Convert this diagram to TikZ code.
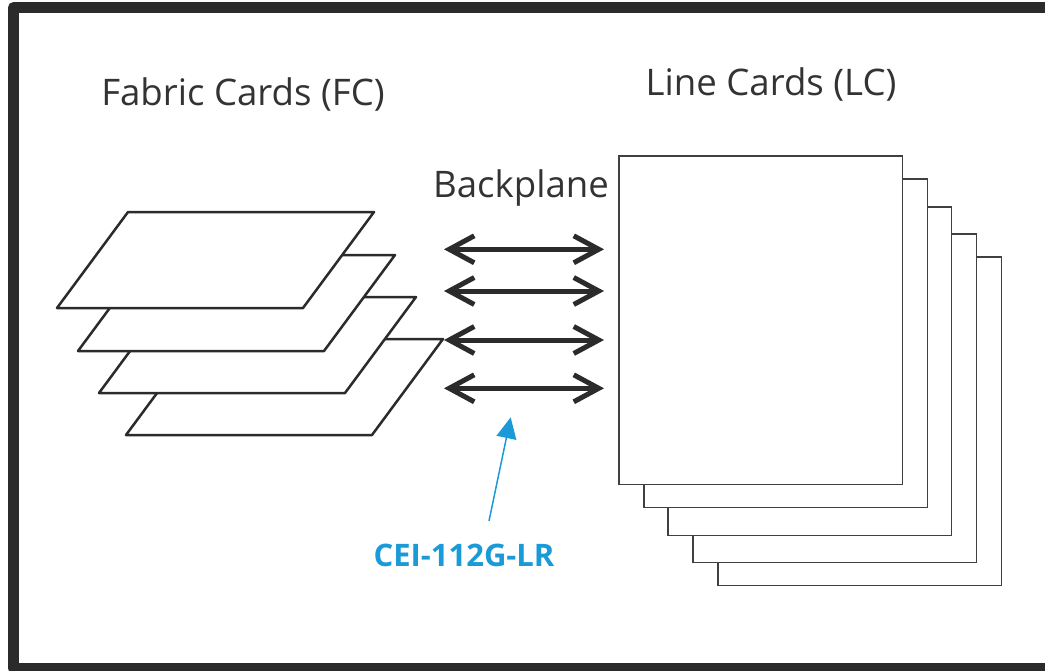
\documentclass[tikz,border=0pt]{standalone}
\usepackage{fontspec}
\setmainfont{Open Sans}
\usetikzlibrary{arrows.meta, positioning}
\definecolor{frame}{HTML}{2B2B2B}
\definecolor{ink}{HTML}{333333}
\definecolor{ceiblue}{HTML}{1A9BD7}

\begin{document}
\begin{tikzpicture}[
		x=0.5pt, y=-0.5pt,
		title/.style={font=\fontsize{18.3}{22}\selectfont, text=ink, anchor=base, inner sep=0pt},
		fcard/.style={draw=frame, fill=white, line width=1.25pt, line join=round},
		lcard/.style={draw=frame!90, fill=white, line width=0.75pt, minimum width=141.85pt, minimum height=164.15pt, inner sep=0pt, outer sep=0pt, anchor=north west},
		link/.style={{Straight Barb[length=12.5pt, width=13.5pt]}-{Straight Barb[length=12.5pt, width=13.5pt]}, line width=2.5pt, draw=frame},
		callout/.style={-{Triangle[length=10.5pt, width=10pt]}, line width=0.75pt, draw=ceiblue, fill=ceiblue}
	]
	\useasboundingbox (0,0) rectangle (1045,670);
	\draw[line width=5.5pt, draw=frame, line join=round] (13.5,7.5) rectangle (1050.3,668.5);

	% fabric cards, back to front
	\foreach \x/\y in {126/435, 99/393, 78/351, 57/308}
		\draw[fcard] (\x,\y) -- ++(246,0) -- ++(71,-96) -- ++(-246,0) -- cycle;

	% line cards, back to front
	\foreach \x/\y [count=\i] in {718/257, 693/234, 668/207, 644/179, 619/156}
		\node[lcard] (lc\i) at (\x,\y) {};

	\node[title] (fc) at (243,105) {Fabric Cards (FC)};
	\node[title] (lc) at (771,95) {Line Cards (LC)};
	\node[title] (bp) at (521,197.7) {Backplane};

	% backplane links
	\foreach \y [count=\i] in {249.3, 291, 340, 388.3} {
		\coordinate (bpL\i) at (444,\y);
		\coordinate (bpR\i) at (604,\y);
		\draw[link] (bpL\i) -- (bpR\i);
	}

	\node[title, font=\fontsize{15.5}{18}\bfseries, text=ceiblue] (cei) at (464,566.7) {CEI-112G-LR};
	\coordinate (bptarget) at (510.7,417.3);
	\draw[callout] ([shift={(25,-23)}]cei.north) -- (bptarget);
\end{tikzpicture}
\end{document}
